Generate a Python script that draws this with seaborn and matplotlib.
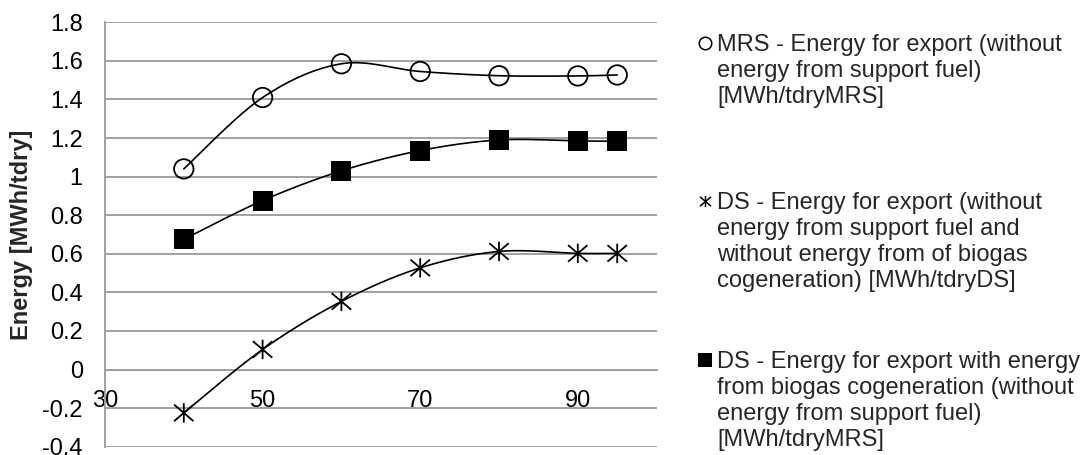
import numpy as np
import pandas as pd
import matplotlib
matplotlib.use("Agg")
import matplotlib.pyplot as plt
import seaborn as sns
from matplotlib.path import Path
from matplotlib.markers import MarkerStyle
from matplotlib.lines import Line2D
from matplotlib.ticker import FuncFormatter

sns.set_style("white")
plt.rcParams["font.family"] = ["Liberation Sans", "DejaVu Sans"]

# ---- data ----
dry_solids = [40, 50, 60, 70, 80, 90, 95]
mrs_export = [1.04, 1.41, 1.585, 1.545, 1.523, 1.522, 1.527]
ds_export_no_biogas = [-0.225, 0.104, 0.353, 0.527, 0.612, 0.602, 0.602]
ds_export_biogas = [0.675, 0.876, 1.03, 1.135, 1.19, 1.185, 1.183]

x_ticks = [30, 50, 70, 90]
y_ticks = [-0.4, -0.2, 0, 0.2, 0.4, 0.6, 0.8, 1.0, 1.2, 1.4, 1.6, 1.8]
y_label = "Energy [MWh/tdry]"
legend_labels = [
    "MRS - Energy for export (without\nenergy from support fuel)\n[MWh/tdryMRS]",
    "DS - Energy for export (without\nenergy from support fuel and\nwithout energy from of biogas\ncogeneration) [MWh/tdryDS]",
    "DS - Energy for export with energy\nfrom biogas cogeneration (without\nenergy from support fuel)\n[MWh/tdryMRS]",
]

GRID = "#a0a0a0"
FS = 17

star_path = Path(
    [(-1, -0.85), (1, 0.85), (-1, 0.85), (1, -0.85), (0, -1), (0, 1)],
    [Path.MOVETO, Path.LINETO, Path.MOVETO, Path.LINETO, Path.MOVETO, Path.LINETO],
)
star_marker = MarkerStyle(star_path)


def smooth_curve(x, y, n=40):
    """Excel-style smoothed line (Catmull-Rom Bezier) through the points."""
    P = np.column_stack([x, y]).astype(float)
    E = np.vstack([P[0], P, P[-1]])
    pts = []
    for i in range(len(P) - 1):
        p0, p1, p2, p3 = E[i], E[i + 1], E[i + 2], E[i + 3]
        c1 = p1 + (p2 - p0) / 6.0
        c2 = p2 - (p3 - p1) / 6.0
        t = np.linspace(0, 1, n)[:, None]
        B = ((1 - t) ** 3) * p1 + 3 * ((1 - t) ** 2) * t * c1 + 3 * (1 - t) * t ** 2 * c2 + t ** 3 * p2
        pts.append(B if i == len(P) - 2 else B[:-1])
    B = np.vstack(pts)
    return pd.DataFrame({"x": B[:, 0], "y": B[:, 1]})


fig = plt.figure(figsize=(10.88, 4.55), dpi=100)
ax = fig.add_axes([0.0965, 0.0183, 0.507, 0.9327])

series = [
    (mrs_export, dict(marker="o", facecolor="none", edgecolor="black", linewidth=1.3, s=196)),
    (ds_export_no_biogas, dict(marker=star_marker, facecolor="none", edgecolor="black", linewidth=1.3, s=196)),
    (ds_export_biogas, dict(marker="s", facecolor="black", edgecolor="black", linewidth=0, s=196)),
]

for vals, mk in series:
    curve = smooth_curve(dry_solids, vals)
    sns.lineplot(data=curve, x="x", y="y", sort=False, estimator=None,
                 color="black", linewidth=1.2, ax=ax, zorder=3)
    df = pd.DataFrame({"x": dry_solids, "y": vals})
    sns.scatterplot(data=df, x="x", y="y", ax=ax, zorder=4, **mk)

ax.set_xlim(30, 100)
ax.set_ylim(-0.4, 1.8)
ax.set_xticks(x_ticks)
ax.set_yticks(y_ticks)
ax.yaxis.set_major_formatter(FuncFormatter(lambda v, p: f"{v:.1f}".rstrip("0").rstrip(".") if abs(v) > 1e-9 else "0"))
ax.set_xlabel("")
ax.set_ylabel(y_label, fontsize=FS, fontweight="bold")
ax.yaxis.set_label_coords(-0.131, 0.5)

ax.grid(False)
ax.yaxis.grid(True, color=GRID, linewidth=1.4)
ax.set_axisbelow(True)
for s in ["top", "right"]:
    ax.spines[s].set_visible(False)
ax.spines["bottom"].set_position(("data", 0))
for s in ["left", "bottom"]:
    ax.spines[s].set_color(GRID)
    ax.spines[s].set_linewidth(1.4)
ax.tick_params(axis="both", direction="out", length=6, width=1.4, color=GRID,
               labelsize=FS, labelcolor="black")
ax.tick_params(axis="y", pad=10)
ax.tick_params(axis="x", pad=9)

# ---- legend (Excel style: marker aligned with first line) ----
legend_handles = [
    dict(marker="o", markerfacecolor="none", markeredgecolor="black", markersize=9, markeredgewidth=1.1),
    dict(marker=star_marker, markerfacecolor="none", markeredgecolor="black", markersize=8, markeredgewidth=1.1),
    dict(marker="s", markerfacecolor="black", markeredgecolor="black", markersize=10, markeredgewidth=0),
]
W, H = 1088.0, 455.0
text_x = 717 / W
marker_x = 705 / W
tops = [34, 192, 351]
for lab, hd, top in zip(legend_labels, legend_handles, tops):
    fig.text(text_x, 1 - top / H, lab, fontsize=FS, va="top", ha="left", linespacing=1.24)
    fig.add_artist(Line2D([marker_x], [1 - (top + 9) / H], transform=fig.transFigure,
                          linestyle="none", **hd))

fig.savefig("out.png", dpi=100)
